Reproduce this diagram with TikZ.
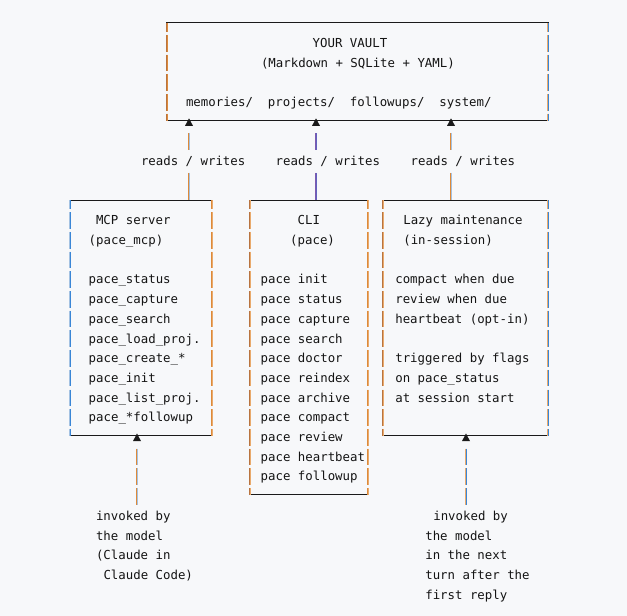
\documentclass[tikz,border=0pt]{standalone}
\usepackage{fontspec}
\newfontfamily\monof{DejaVu Sans Mono}
\definecolor{bgc}{HTML}{F7F8FA}
\definecolor{ink}{HTML}{141414}
\definecolor{linec}{HTML}{1A1A1A}
\definecolor{oS}{HTML}{DD8A3A}
\definecolor{oL}{HTML}{E9AA6C}
\definecolor{oB}{HTML}{B87440}
\definecolor{bS}{HTML}{3A86D6}
\definecolor{bL}{HTML}{A4C2E2}
\definecolor{pA}{HTML}{7E5AAE}
\definecolor{pB}{HTML}{6262BE}
\tikzset{
  txt/.style={anchor=base west, inner sep=0pt, outer sep=0pt, text=ink,
    font=\monof\fontsize{12.38}{14}\selectfont},
  hline/.style={draw=linec, line width=1pt},
  trifill/.style={fill=linec, draw=none},
}
\newcommand{\Y}[1]{(23.5+19.7*(#1))}
\newcommand{\vseg}[5]{%
  \draw[line width=1pt, color=#4] ({#1-0.5},{#2}) -- ({#1-0.5},{#3});
  \draw[line width=1pt, color=#5] ({#1+0.5},{#2}) -- ({#1+0.5},{#3});
}
\newcommand{\vrows}[5]{%
  \foreach \rr in {#2,...,#3}{\vseg{#1}{\Y{\rr}-8.3}{\Y{\rr}+8.3}{#4}{#5}}
}
\newcommand{\vbar}[7]{%
  \vseg{#1}{\Y{#2}-0.6}{\Y{#2}+8.3}{#6}{#7}
  \vrows{#1}{#3}{#4}{#6}{#7}
  \vseg{#1}{\Y{#5}-8.3}{\Y{#5}-1.5}{#6}{#7}
}
\newcommand{\uptri}[2]{%
  \fill[trifill] ({#1},{#2-2.2}) -- ({#1-4},{#2+5.4}) -- ({#1+4},{#2+5.4}) -- cycle;
}
\newcommand{\tl}[4]{\node[txt] (#1) at (#2,{\Y{#3}+4.3}) {#4};}

\begin{document}
\begin{tikzpicture}[x=1pt,y=-1pt]
\fill[bgc] (0,0) rectangle (627,616);
\useasboundingbox (0,0) rectangle (627,616);

% ---------- top box ----------
\draw[hline] (166,{\Y{0}-0.6}) -- (549,{\Y{0}-0.6});
\draw[hline] (166,{\Y{5}-1.5}) -- (549,{\Y{5}-1.5});
\vbar{167}{0}{1}{4}{5}{oB}{oS}
\vbar{548}{0}{1}{4}{5}{oL}{bS}
\uptri{189}{\Y{5}-1.5}
\uptri{316}{\Y{5}-1.5}
\uptri{451}{\Y{5}-1.5}

\tl{vault}{312.7}{1}{YOUR VAULT}
\tl{formats}{261}{2}{(Markdown + SQLite + YAML)}
\tl{dirs}{186}{4}{memories/~~projects/~~followups/~~system/}

% ---------- connectors vault <-> boxes ----------
\vrows{189}{6}{6}{oS}{bL}
\vseg{189}{\Y{8}-8.3}{\Y{9}-0.6}{oS}{bL}
\vrows{316}{6}{6}{pA}{pB}
\vseg{316}{\Y{8}-8.3}{\Y{9}-0.6}{pA}{pB}
\vrows{451}{6}{6}{oS}{bL}
\vseg{451}{\Y{8}-8.3}{\Y{9}-0.6}{oS}{bL}
\tl{rw1}{141}{7}{reads / writes}
\tl{rw2}{275.7}{7}{reads / writes}
\tl{rw3}{410.7}{7}{reads / writes}

% ---------- MCP server box ----------
\draw[hline] (69,{\Y{9}-0.6}) -- (213,{\Y{9}-0.6});
\draw[hline] (69,{\Y{21}-1.5}) -- (213,{\Y{21}-1.5});
\vbar{70}{9}{10}{20}{21}{bL}{bS}
\vbar{212}{9}{10}{20}{21}{oS}{oL}
\uptri{137}{\Y{21}-1.5}
\tl{mcp}{96}{10}{MCP server}
\tl{mcpb}{88.7}{11}{(pace\_mcp)}
\tl{m1}{88.7}{13}{pace\_status}
\tl{m2}{88.7}{14}{pace\_capture}
\tl{m3}{88.7}{15}{pace\_search}
\tl{m4}{88.7}{16}{pace\_load\_proj.}
\tl{m5}{88.7}{17}{pace\_create\_*}
\tl{m6}{88.7}{18}{pace\_init}
\tl{m7}{88.7}{19}{pace\_list\_proj.}
\tl{m8}{88.7}{20}{pace\_*followup}

% ---------- CLI box ----------
\draw[hline] (249,{\Y{9}-0.6}) -- (369,{\Y{9}-0.6});
\draw[hline] (249,{\Y{24}-1.5}) -- (369,{\Y{24}-1.5});
\vbar{250}{9}{10}{23}{24}{oB}{oL}
\vbar{368}{9}{10}{23}{24}{oS}{oL}
\tl{cli}{297.7}{10}{CLI}
\tl{clib}{290.2}{11}{(pace)}
\tl{c1}{260.7}{13}{pace init}
\tl{c2}{260.7}{14}{pace status}
\tl{c3}{260.7}{15}{pace capture}
\tl{c4}{260.7}{16}{pace search}
\tl{c5}{260.7}{17}{pace doctor}
\tl{c6}{260.7}{18}{pace reindex}
\tl{c7}{260.7}{19}{pace archive}
\tl{c8}{260.7}{20}{pace compact}
\tl{c9}{260.7}{21}{pace review}
\tl{c10}{260.7}{22}{pace heartbeat}
\tl{c11}{260.7}{23}{pace followup}

% ---------- Lazy maintenance box ----------
\draw[hline] (382,{\Y{9}-0.6}) -- (549,{\Y{9}-0.6});
\draw[hline] (382,{\Y{21}-1.5}) -- (549,{\Y{21}-1.5});
\vbar{383}{9}{10}{20}{21}{oB}{oL}
\vbar{548}{9}{10}{20}{21}{oL}{bS}
\uptri{466}{\Y{21}-1.5}
\tl{lazy}{403.3}{10}{Lazy maintenance}
\tl{lazyb}{403.3}{11}{(in-session)}
\tl{l1}{395.3}{13}{compact when due}
\tl{l2}{395.3}{14}{review when due}
\tl{l3}{395.3}{15}{heartbeat (opt-in)}
\tl{l4}{395.3}{17}{triggered by flags}
\tl{l5}{395.3}{18}{on pace\_status}
\tl{l6}{395.3}{19}{at session start}

% ---------- bottom connectors ----------
\vrows{137}{22}{24}{oS}{bL}
\vrows{466}{22}{24}{oL}{bS}
\tl{inv1}{96}{25}{invoked by}
\tl{inv2}{96}{26}{the model}
\tl{inv3}{96}{27}{(Claude in}
\tl{inv4}{103.5}{28}{Claude Code)}
\tl{nx1}{433.3}{25}{invoked by}
\tl{nx2}{425.3}{26}{the model}
\tl{nx3}{425.3}{27}{in the next}
\tl{nx4}{425.3}{28}{turn after the}
\tl{nx5}{425.3}{29}{first reply}
\end{tikzpicture}
\end{document}
